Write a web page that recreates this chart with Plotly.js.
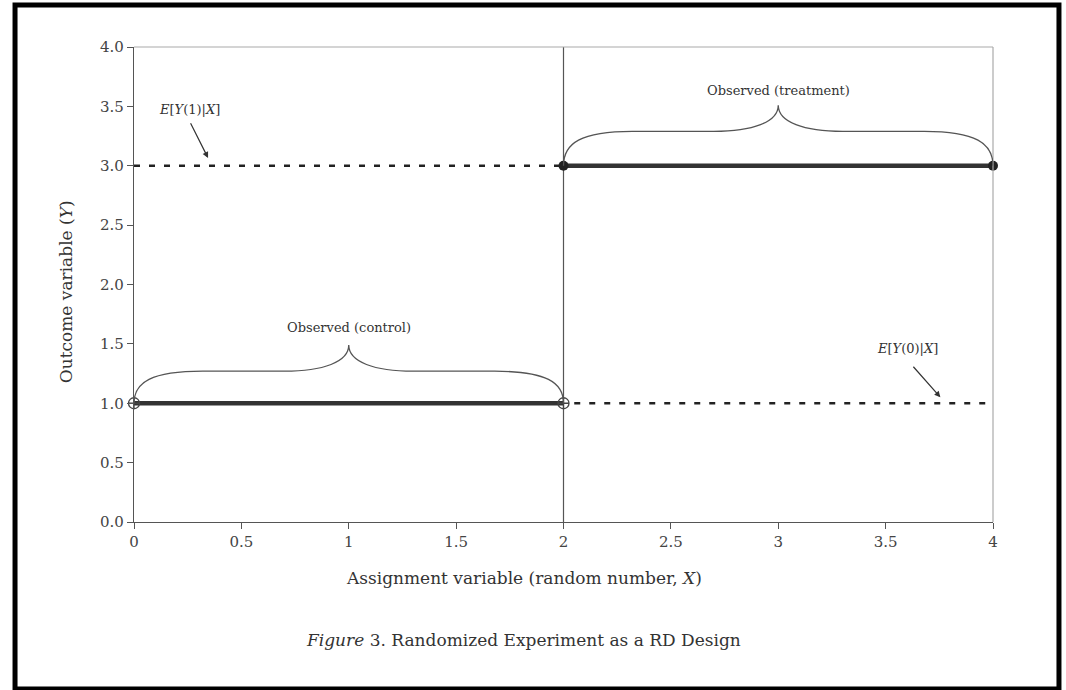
<!DOCTYPE html>
<html>
<head>
<meta charset="utf-8">
<script src="https://cdn.plot.ly/plotly-3.0.1.min.js"></script>
<style>html,body{margin:0;padding:0;background:#fff;}#chart{width:1066px;height:690px;}</style>
</head>
<body>
<div id="chart"></div>
<script>
// ---- data ----
const cutoff = 2;
const controlX = [0, 2];
const controlY = [1, 1];
const treatX = [2, 4];
const treatY = [3, 3];
const cfTreatX = [0, 2];      // E[Y(1)|X] unobserved (dashed)
const cfTreatY = [3, 3];
const cfControlX = [2.05, 4]; // E[Y(0)|X] unobserved (dashed)
const cfControlY = [1, 1];
const xTickVals = [0, 0.5, 1, 1.5, 2, 2.5, 3, 3.5, 4];
const xTickText = ['0', '0.5', '1', '1.5', '2', '2.5', '3', '3.5', '4'];
const yTickVals = [0, 0.5, 1, 1.5, 2, 2.5, 3, 3.5, 4];
const yTickText = ['0.0', '0.5', '1.0', '1.5', '2.0', '2.5', '3.0', '3.5', '4.0'];
// braces: [x start, x end, base y, shoulder y, peak y]
const braceControl = [0, 2, 1.0, 1.27, 1.49];
const braceTreat = [2, 4, 3.0, 3.29, 3.51];

const FONT = 'DejaVu Serif, Liberation Serif, serif';
const INK = '#333';

function bracePath(b) {
  const [x0, x1, yb, yl, yp] = b;
  const w = x1 - x0, xm = (x0 + x1) / 2;
  const p = [];
  p.push(`M ${x0},${yb}`);
  p.push(`C ${x0},${yb + 0.65 * (yl - yb)} ${x0 + 0.04 * w},${yl} ${x0 + 0.16 * w},${yl}`);
  p.push(`L ${x0 + 0.35 * w},${yl}`);
  p.push(`C ${xm - 0.06 * w},${yl} ${xm},${yl + 0.35 * (yp - yl)} ${xm},${yp}`);
  p.push(`C ${xm},${yl + 0.35 * (yp - yl)} ${xm + 0.06 * w},${yl} ${x1 - 0.35 * w},${yl}`);
  p.push(`L ${x1 - 0.16 * w},${yl}`);
  p.push(`C ${x1 - 0.04 * w},${yl} ${x1},${yb + 0.65 * (yl - yb)} ${x1},${yb}`);
  return p.join(' ');
}

const traces = [
  {x: [cutoff, cutoff], y: [0, 4], mode: 'lines', line: {color: '#555', width: 1.2}, hoverinfo: 'skip', cliponaxis: false},
  {x: cfTreatX, y: cfTreatY, mode: 'lines', line: {color: '#222', width: 2.6, dash: '6px,9px'}, cliponaxis: false},
  {x: cfControlX, y: cfControlY, mode: 'lines', line: {color: '#222', width: 2.6, dash: '6px,9px'}, cliponaxis: false},
  {x: controlX, y: controlY, mode: 'lines', line: {color: '#333', width: 4.5}, cliponaxis: false},
  {x: treatX, y: treatY, mode: 'lines', line: {color: '#333', width: 4.5}, cliponaxis: false},
  {x: controlX, y: controlY, mode: 'markers', marker: {symbol: 'circle-cross-open', size: 11, color: '#444', line: {width: 1.3}}, cliponaxis: false},
  {x: treatX, y: treatY, mode: 'markers', marker: {symbol: 'circle', size: 10, color: '#222'}, cliponaxis: false}
];

const annFont = {family: FONT, size: 13, color: INK};
const layout = {
  width: 1066, height: 690,
  margin: {l: 134, r: 73, t: 47, b: 168},
  paper_bgcolor: '#fff', plot_bgcolor: '#fff',
  showlegend: false,
  font: {family: FONT, color: INK},
  xaxis: {
    range: [0, 4], showgrid: false, zeroline: false, showline: true, linecolor: '#555', linewidth: 1.2,
    ticks: 'outside', ticklen: 6, tickcolor: '#555', tickvals: xTickVals, ticktext: xTickText,
    tickfont: {family: FONT, size: 15, color: '#444'}, fixedrange: true
  },
  yaxis: {
    range: [0, 4], showgrid: false, zeroline: false, showline: true, linecolor: '#555', linewidth: 1.2,
    ticks: 'outside', ticklen: 6, tickcolor: '#555', tickvals: yTickVals, ticktext: yTickText,
    tickfont: {family: FONT, size: 15, color: '#444'}, fixedrange: true
  },
  shapes: [
    {type: 'line', xref: 'paper', yref: 'paper', x0: 0, x1: 1, y0: 1, y1: 1, line: {color: '#aaa', width: 1.2}},
    {type: 'line', xref: 'paper', yref: 'paper', x0: 1, x1: 1, y0: 0, y1: 1, line: {color: '#aaa', width: 1.2}},
    {type: 'path', xref: 'x', yref: 'y', path: bracePath(braceControl), line: {color: '#555', width: 1.3}},
    {type: 'path', xref: 'x', yref: 'y', path: bracePath(braceTreat), line: {color: '#555', width: 1.3}},
    {type: 'rect', xref: 'paper', yref: 'paper', x0: -0.1385, x1: 1.0768, y0: -0.3516, y1: 1.0884, line: {color: '#000', width: 5}, layer: 'above'}
  ],
  annotations: [
    {x: 1, y: 1.635, xref: 'x', yref: 'y', text: 'Observed (control)', showarrow: false, font: annFont},
    {x: 3, y: 3.635, xref: 'x', yref: 'y', text: 'Observed (treatment)', showarrow: false, font: annFont},
    {x: 0.258, y: 3.47, xref: 'x', yref: 'y', text: '<i>E</i>[<i>Y</i>(1)|<i>X</i>]', showarrow: false, font: annFont},
    {x: 3.6, y: 1.465, xref: 'x', yref: 'y', text: '<i>E</i>[<i>Y</i>(0)|<i>X</i>]', showarrow: false, font: annFont},
    {x: 0.345, y: 3.065, xref: 'x', yref: 'y', ax: 0.26, ay: 3.37, axref: 'x', ayref: 'y', text: '', showarrow: true, arrowhead: 2, arrowsize: 1, arrowwidth: 1.2, arrowcolor: INK},
    {x: 3.755, y: 1.05, xref: 'x', yref: 'y', ax: 3.623, ay: 1.32, axref: 'x', ayref: 'y', text: '', showarrow: true, arrowhead: 2, arrowsize: 1, arrowwidth: 1.2, arrowcolor: INK},
    {x: 0.454, y: -0.118, xref: 'paper', yref: 'paper', xanchor: 'center', yanchor: 'middle', text: 'Assignment variable (random number, <i>X</i>)', showarrow: false, font: {family: FONT, size: 17, color: INK}},
    {x: -0.079, y: 0.484, xref: 'paper', yref: 'paper', xanchor: 'center', yanchor: 'middle', text: 'Outcome variable (<i>Y</i>)', textangle: -90, showarrow: false, font: {family: FONT, size: 17, color: INK}},
    {x: 0.454, y: -0.2484, xref: 'paper', yref: 'paper', xanchor: 'center', yanchor: 'middle', text: '<i>Figure</i> 3. Randomized Experiment as a RD Design', showarrow: false, font: {family: FONT, size: 17, color: INK}}
  ]
};

Plotly.newPlot('chart', traces, layout, {displayModeBar: false, staticPlot: true});
</script>
</body>
</html>
